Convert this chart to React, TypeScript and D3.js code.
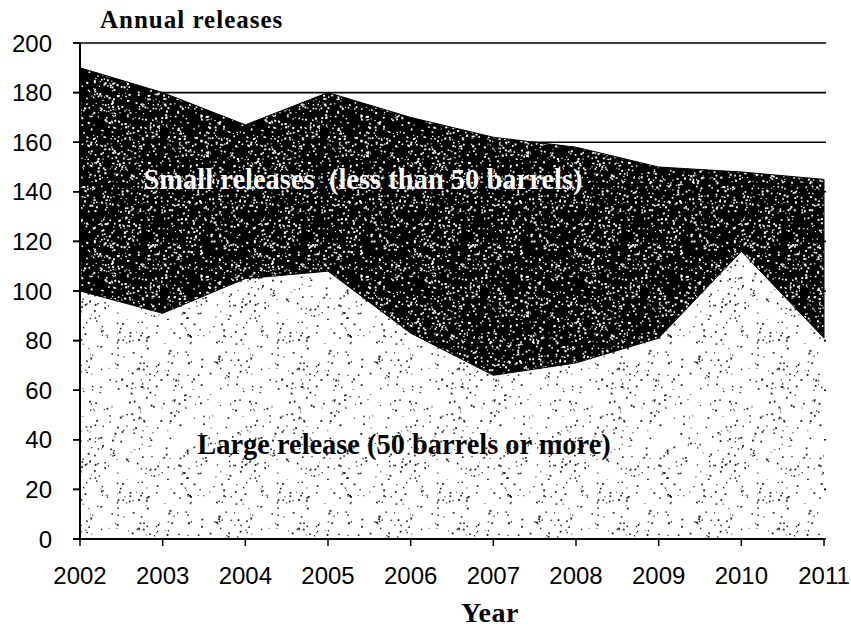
import React from "react";
import * as d3 from "d3";

const years = [2002, 2003, 2004, 2005, 2006, 2007, 2008, 2009, 2010, 2011];
const largeReleases = [100, 91, 105, 108, 83, 66, 71, 81, 116, 81];
const smallReleases = [90, 89, 62, 72, 87, 96, 87, 69, 32, 64];
const yTicks = [0, 20, 40, 60, 80, 100, 120, 140, 160, 180, 200];

const W = 851;
const H = 629;
const M = { left: 80, right: 27, top: 43, bottom: 90 };

function makeDots(seed: number, n: number, size: number) {
  let s = seed;
  const rnd = () => {
    s = (s * 1103515245 + 12345) % 2147483648;
    return s / 2147483648;
  };
  const out: { x: number; y: number; r: number }[] = [];
  for (let i = 0; i < n; i++) {
    out.push({ x: rnd() * size, y: rnd() * size, r: 0.6 + rnd() * 0.7 });
  }
  return out;
}

const TILE = 160;
const darkDots = makeDots(12345, 1300, TILE);
const lightDots = makeDots(987, 420, TILE);

export default function App() {
  const x = d3
    .scaleLinear()
    .domain([years[0], years[years.length - 1]])
    .range([M.left, W - M.right]);
  const y = d3.scaleLinear().domain([0, 200]).range([H - M.bottom, M.top]);

  const rows = years.map((yr, i) => ({ year: yr, large: largeReleases[i], small: smallReleases[i] }));
  const stack = d3.stack<any>().keys(["large", "small"]);
  const series = stack(rows);
  const area = d3
    .area<any>()
    .x((d) => x(d.data.year))
    .y0((d) => y(d[0]))
    .y1((d) => y(d[1]));

  const serif = "'Liberation Serif', 'Times New Roman', serif";
  const sans = "'Liberation Sans', Arial, sans-serif";

  return (
    <svg width={W} height={H} style={{ position: "absolute", left: 0, top: 0, background: "#fff" }}>
      <defs>
        <pattern id="darkP" patternUnits="userSpaceOnUse" width={TILE} height={TILE}>
          <rect width={TILE} height={TILE} fill="#000" />
          {darkDots.map((d, i) => (
            <rect key={i} x={d.x} y={d.y} width={d.r * 1.6} height={d.r * 1.6} fill="#fff" />
          ))}
        </pattern>
        <pattern id="lightP" patternUnits="userSpaceOnUse" width={TILE} height={TILE}>
          <rect width={TILE} height={TILE} fill="#fff" />
          {lightDots.map((d, i) => (
            <rect key={i} x={d.x} y={d.y} width={d.r * 1.5} height={d.r * 1.5} fill="#222" />
          ))}
        </pattern>
      </defs>
      <rect width={W} height={H} fill="#fff" />
      {yTicks.map((t) => (
        <line key={t} x1={M.left - 7} x2={W - M.right + 2} y1={y(t)} y2={y(t)} stroke="#000" strokeWidth={1.6} />
      ))}
      <path d={area(series[0] as any) || ""} fill="url(#lightP)" />
      <path d={area(series[1] as any) || ""} fill="url(#darkP)" stroke="#000" strokeWidth={1} />
      <line x1={M.left} x2={M.left} y1={y(200)} y2={y(0)} stroke="#000" strokeWidth={2} />
      <line x1={M.left - 7} x2={W - M.right} y1={y(0)} y2={y(0)} stroke="#000" strokeWidth={2} />
      {yTicks.map((t) => (
        <g key={"yt" + t}>
          <line x1={M.left - 7} x2={M.left} y1={y(t)} y2={y(t)} stroke="#000" strokeWidth={1.5} />
          <text x={52} y={y(t)} dy="0.36em" textAnchor="end" fontFamily={sans} fontSize={24} fill="#000">
            {t}
          </text>
        </g>
      ))}
      {years.map((yr) => (
        <g key={"xt" + yr}>
          <line x1={x(yr)} x2={x(yr)} y1={y(0)} y2={y(0) + 7} stroke="#000" strokeWidth={1.5} />
          <text x={x(yr)} y={584} textAnchor="middle" fontFamily={sans} fontSize={24} fill="#000">
            {yr}
          </text>
        </g>
      ))}
      <text x={100} y={28} fontFamily={serif} fontWeight="bold" fontSize={25} letterSpacing={1} fill="#000">
        Annual releases
      </text>
      <text x={490} y={622} textAnchor="middle" fontFamily={serif} fontWeight="bold" fontSize={28} letterSpacing={0.5} fill="#000">
        Year
      </text>
      <text x={363} y={189} textAnchor="middle" fontFamily={serif} fontWeight="bold" fontSize={28.5} fill="#fff" style={{ whiteSpace: "pre" }}>
        {"Small releases  (less than 50 barrels)"}
      </text>
      <text x={404} y={454} textAnchor="middle" fontFamily={serif} fontWeight="bold" fontSize={28.4} fill="#000">
        Large release (50 barrels or more)
      </text>
    </svg>
  );
}
